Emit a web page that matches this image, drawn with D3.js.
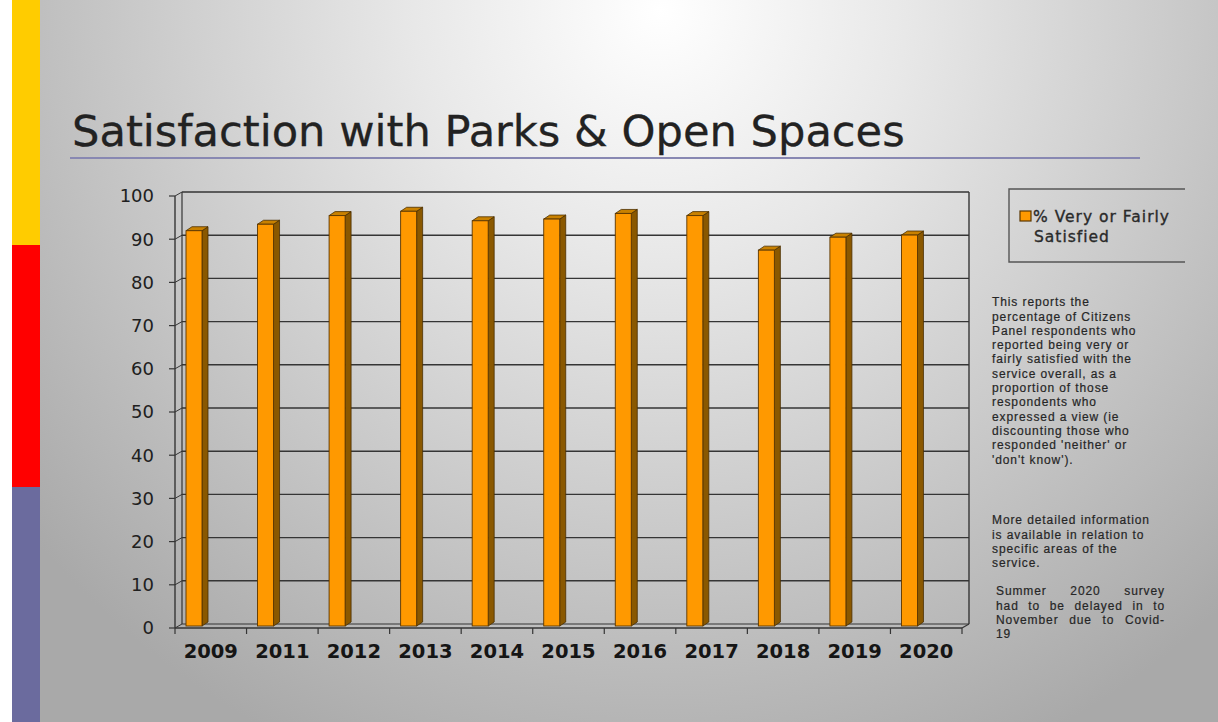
<!DOCTYPE html>
<html>
<head>
<meta charset="utf-8">
<script src="https://cdn.jsdelivr.net/npm/d3@7/dist/d3.min.js"></script>
<style>
  html, body { margin: 0; padding: 0; background: #fff; }
  svg { display: block; }
</style>
</head>
<body>
<svg id="chart" width="1218" height="722"></svg>
<script>
// ---- data ----
const categories = ["2009", "2011", "2012", "2013", "2014", "2015", "2016", "2017", "2018", "2019", "2020"];
const values = [91.5, 93, 95, 96, 93.8, 94.2, 95.5, 95, 87, 90, 90.5];
const yTicks = [0, 10, 20, 30, 40, 50, 60, 70, 80, 90, 100];
const titleText = "Satisfaction with Parks & Open Spaces";
const legendLines = ["% Very or Fairly", "Satisfied"];
const noteBlock1 = ["This reports the", "percentage of Citizens", "Panel respondents who", "reported being very or",
  "fairly satisfied with the", "service overall, as a", "proportion of those", "respondents who",
  "expressed a view (ie", "discounting those who", "responded 'neither' or", "'don't know')."];
const noteBlock2 = ["More detailed information", "is available in relation to", "specific areas of the", "service."];
const noteBlock3 = ["Summer 2020 survey", "had to be delayed in to", "November due to Covid-", "19"];

// ---- drawing ----
const svg = d3.select("#chart");
const W = 1218, H = 722;
const defs = svg.append("defs");
const bg = defs.append("radialGradient").attr("id", "bg")
  .attr("gradientUnits", "userSpaceOnUse")
  .attr("cx", 660).attr("cy", 10).attr("r", 820).attr("fx", 660).attr("fy", 10);
[[0, "#ffffff"], [0.3, "#e8e8e8"], [0.7, "#c4c4c4"], [1, "#a9a9a9"]].forEach(s =>
  bg.append("stop").attr("offset", s[0]).attr("stop-color", s[1]));

svg.append("rect").attr("width", W).attr("height", H).attr("fill", "url(#bg)");
svg.append("rect").attr("x", 0).attr("y", 0).attr("width", 12).attr("height", H).attr("fill", "#ffffff");
// left colour strip
[[0, 245, "#FFCC00"], [245, 487, "#FF0000"], [487, 722, "#6B6B9E"]].forEach(s =>
  svg.append("rect").attr("x", 12).attr("y", s[0]).attr("width", 28).attr("height", s[1] - s[0]).attr("fill", s[2]));

// title
const title = svg.append("text").attr("x", 72).attr("y", 146)
  .attr("font-family", "DejaVu Sans, Verdana, sans-serif").attr("font-size", 40)
  .attr("fill", "#222").attr("stroke", "#222").attr("stroke-width", 0.3).text(titleText);
const tw = title.node().getComputedTextLength();
title.attr("font-size", 40 * 833 / tw);
svg.append("line").attr("x1", 70).attr("x2", 1140).attr("y1", 158).attr("y2", 158)
  .attr("stroke", "#8888b2").attr("stroke-width", 2);

// scales
const x = d3.scaleBand().domain(categories).range([175, 962]).paddingInner(0).paddingOuter(0);
const yF = d3.scaleLinear().domain([0, 100]).range([628, 196]);
const DX = 7, DY = -4;
const yB = v => yF(v) + DY;
const yBar = d3.scaleLinear().domain([0, 100]).range([626, 194]);
const lineCol = "#353535";

const g = svg.append("g");
// gridlines on back wall + side wall
yTicks.forEach(v => {
  if (v > 0) {
    g.append("line").attr("x1", 175 + DX).attr("x2", 962 + DX).attr("y1", yB(v)).attr("y2", yB(v))
      .attr("stroke", lineCol).attr("stroke-width", 1.4);
  }
  g.append("line").attr("x1", 175).attr("x2", 175 + DX).attr("y1", yF(v)).attr("y2", yB(v))
    .attr("stroke", lineCol).attr("stroke-width", 1);
});
// back wall frame
g.append("line").attr("x1", 175 + DX).attr("x2", 175 + DX).attr("y1", yB(100)).attr("y2", yB(0)).attr("stroke", lineCol).attr("stroke-width", 1.2);
g.append("line").attr("x1", 962 + DX).attr("x2", 962 + DX).attr("y1", yB(100)).attr("y2", yB(0)).attr("stroke", lineCol).attr("stroke-width", 1.4);
g.append("line").attr("x1", 175 + DX).attr("x2", 962 + DX).attr("y1", yB(0)).attr("y2", yB(0)).attr("stroke", lineCol).attr("stroke-width", 1.2);
// floor
g.append("line").attr("x1", 175).attr("x2", 962).attr("y1", yF(0)).attr("y2", yF(0)).attr("stroke", lineCol).attr("stroke-width", 1.4);
g.append("line").attr("x1", 962).attr("x2", 962 + DX).attr("y1", yF(0)).attr("y2", yB(0)).attr("stroke", lineCol).attr("stroke-width", 1.2);

// bars
const BW = 16, BD = 6, BDY = -4;
const bars = g.selectAll("g.bar").data(categories.map((c, i) => ({ c, v: values[i] }))).join("g").attr("class", "bar");
bars.each(function (d) {
  const el = d3.select(this);
  const x0 = x(d.c) + 11, x1 = x0 + BW;
  const yt = yBar(d.v), yb = yBar(0);
  el.append("path").attr("d", `M${x1},${yb} L${x1 + BD},${yb + BDY} L${x1 + BD},${yt + BDY} L${x1},${yt} Z`)
    .attr("fill", "#8a5800").attr("stroke", "#4a2e00").attr("stroke-width", 0.8);
  el.append("path").attr("d", `M${x0},${yt} L${x0 + BD},${yt + BDY} L${x1 + BD},${yt + BDY} L${x1},${yt} Z`)
    .attr("fill", "#c98100").attr("stroke", "#4a2e00").attr("stroke-width", 0.8);
  el.append("rect").attr("x", x0).attr("y", yt).attr("width", BW).attr("height", yb - yt)
    .attr("fill", "#FF9900").attr("stroke", "#5a3600").attr("stroke-width", 0.9);
});

// front y axis
g.append("line").attr("x1", 175).attr("x2", 175).attr("y1", yF(100)).attr("y2", yF(0)).attr("stroke", lineCol).attr("stroke-width", 1.4);
yTicks.forEach(v => {
  g.append("line").attr("x1", 169).attr("x2", 175).attr("y1", yF(v)).attr("y2", yF(v)).attr("stroke", lineCol).attr("stroke-width", 1.2);
  g.append("text").attr("x", 154).attr("y", yF(v)).attr("dy", "0.36em").attr("text-anchor", "end")
    .attr("font-family", "DejaVu Sans, Verdana, sans-serif").attr("font-size", 18).attr("fill", "#202020").text(v);
});
// x ticks & labels
const bounds = categories.map(c => x(c)).concat([962]);
bounds.forEach(b => g.append("line").attr("x1", b).attr("x2", b).attr("y1", yF(0)).attr("y2", yF(0) + 6).attr("stroke", lineCol).attr("stroke-width", 1.2));
categories.forEach(c => g.append("text").attr("x", x(c) + x.bandwidth() / 2).attr("y", 658).attr("text-anchor", "middle")
  .attr("font-family", "DejaVu Sans, Verdana, sans-serif").attr("font-weight", "bold").attr("font-size", 19.5)
  .attr("fill", "#151515").text(c));

// legend
const lg = svg.append("g");
lg.append("path").attr("d", "M1185,189 L1009,189 L1009,262 L1185,262").attr("fill", "none").attr("stroke", "#555").attr("stroke-width", 1.4);
lg.append("rect").attr("x", 1020).attr("y", 211).attr("width", 11).attr("height", 10).attr("fill", "#FF9900").attr("stroke", "#5a3600").attr("stroke-width", 1.2);
legendLines.forEach((t, i) => lg.append("text").attr("x", i === 0 ? 1033 : 1034).attr("y", 222 + i * 20)
  .attr("font-family", "DejaVu Sans, Verdana, sans-serif").attr("font-size", 15.5).attr("letter-spacing", 1)
  .attr("fill", "#2a2a2a").attr("stroke", "#2a2a2a").attr("stroke-width", 0.35).text(t));

// notes
const noteFont = { family: "Liberation Sans, Arial, sans-serif", size: 12, ls: 0.9 };
function noteText(t, x0, y) {
  return svg.append("text").attr("x", x0).attr("y", y).attr("dy", "0.35em")
    .attr("font-family", noteFont.family).attr("font-size", noteFont.size).attr("letter-spacing", noteFont.ls)
    .attr("fill", "#262626").attr("stroke", "#262626").attr("stroke-width", 0.2).text(t);
}
function noteLines(lines, x0, yc, lh) {
  lines.forEach((t, i) => noteText(t, x0, yc + i * lh));
}
noteLines(noteBlock1, 992, 302, 14.3);
noteLines(noteBlock2, 992, 520, 14.3);
// justified block
function justified(lines, x0, x1, yc, lh) {
  lines.forEach((t, i) => {
    const words = t.split(" ");
    const y = yc + i * lh;
    if (i === lines.length - 1 || words.length === 1) { noteText(t, x0, y); return; }
    const nodes = words.map(w => noteText(w, x0, y));
    const widths = nodes.map(n => n.node().getComputedTextLength());
    const total = d3.sum(widths);
    const gap = (x1 - x0 - total) / (words.length - 1);
    let cx = x0;
    nodes.forEach((n, k) => { n.attr("x", cx); cx += widths[k] + gap; });
  });
}
justified(noteBlock3, 996, 1165, 591, 14.3);
</script>
</body>
</html>
